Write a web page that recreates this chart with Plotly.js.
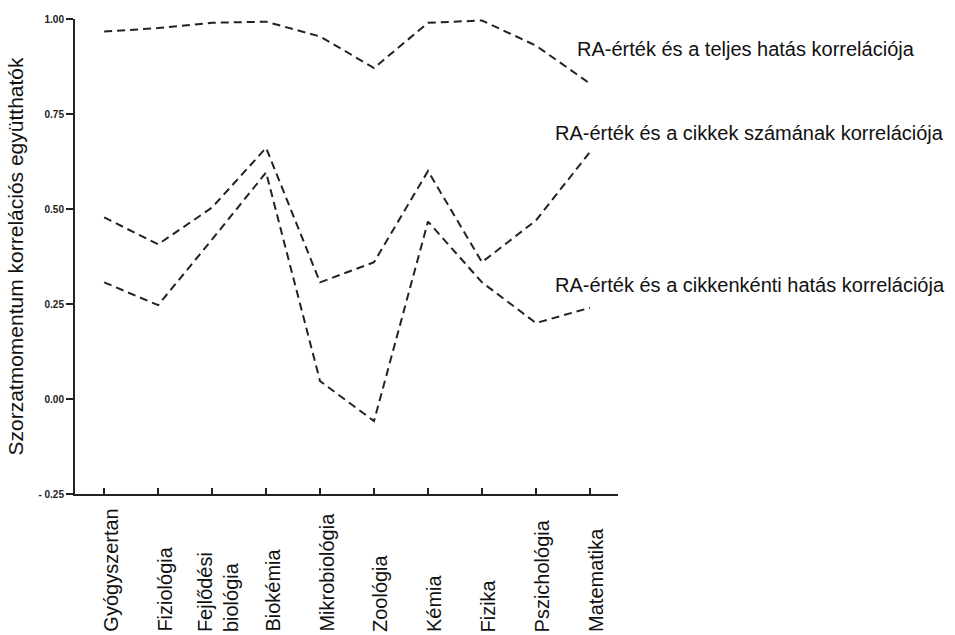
<!DOCTYPE html>
<html>
<head>
<meta charset="utf-8">
<script src="https://cdn.plot.ly/plotly-3.0.1.min.js"></script>
<style>html,body{margin:0;padding:0;background:#fff;}#chart{width:955px;height:635px;}</style>
</head>
<body>
<div id="chart"></div>
<script>
const categories = ["Gyógyszertan","Fiziológia","Fejlődési<br>biológia","Biokémia","Mikrobiológia","Zoológia","Kémia","Fizika","Pszichológia","Matematika"];
const teljesHatas = [0.967, 0.976, 0.99, 0.993, 0.954, 0.871, 0.99, 0.996, 0.93, 0.83];
const cikkekSzama = [0.478, 0.407, 0.504, 0.661, 0.307, 0.36, 0.60, 0.36, 0.47, 0.65];
const cikkenkentiHatas = [0.307, 0.247, 0.42, 0.596, 0.047, -0.058, 0.467, 0.307, 0.20, 0.24];
const seriesNames = ["RA-érték és a teljes hatás korrelációja","RA-érték és a cikkek számának korrelációja","RA-érték és a cikkenkénti hatás korrelációja"];
const yTickVals = [-0.25, 0, 0.25, 0.5, 0.75, 1.0];
const yTickText = ["- 0.25","0.00","0.25","0.50","0.75","1.00"];
const yTitle = "Szorzatmomentum korrelációs együtthatók";

const labelPos = [[0.921, 0.937], [0.880, 0.760], [0.880, 0.440]];

const idx = categories.map((_, i) => i);
const lineStyle = {color: "#222", width: 2, dash: "8px,5px"};
const FONT = "Liberation Sans, Arial, sans-serif";

const traces = [teljesHatas, cikkekSzama, cikkenkentiHatas].map((ys, k) => ({
  x: idx, y: ys, type: "scatter", mode: "lines", name: seriesNames[k],
  line: lineStyle, hoverinfo: "skip"
}));

const annotations = [];
categories.forEach((c, i) => {
  annotations.push({
    x: i, y: 0, xref: "x", yref: "paper", yshift: -140,
    text: c, showarrow: false, textangle: -90, align: "left",
    xanchor: "center", yanchor: "bottom", xshift: 6,
    font: {family: FONT, size: 20, color: "#111"}
  });
});
seriesNames.forEach((n, k) => {
  annotations.push({
    x: labelPos[k][0], y: labelPos[k][1], xref: "paper", yref: "paper",
    text: n, showarrow: false, xanchor: "left", yanchor: "middle",
    font: {family: FONT, size: 20, color: "#111"}
  });
});

const layout = {
  width: 955, height: 635,
  margin: {l: 75, r: 337, t: 19, b: 141},
  paper_bgcolor: "#fff", plot_bgcolor: "#fff",
  showlegend: false,
  xaxis: {
    range: [-0.54, 9.52], tickvals: idx, showticklabels: false,
    ticks: "inside", ticklen: 6, tickcolor: "#222", tickwidth: 1.5,
    showline: true, linecolor: "#222", linewidth: 2, showgrid: false, zeroline: false
  },
  yaxis: {
    range: [-0.25, 1.0], tickvals: yTickVals, ticktext: yTickText,
    ticks: "outside", ticklen: 7, tickcolor: "#222", tickwidth: 1.5,
    showline: true, linecolor: "#222", linewidth: 2, showgrid: false, zeroline: false,
    tickfont: {family: FONT, size: 10, color: "#222", weight: "bold"},
    title: {text: yTitle, font: {family: FONT, size: 21, color: "#111"}, standoff: 9}
  },
  annotations: annotations
};

Plotly.newPlot("chart", traces, layout, {staticPlot: true, displayModeBar: false});
</script>
</body>
</html>
